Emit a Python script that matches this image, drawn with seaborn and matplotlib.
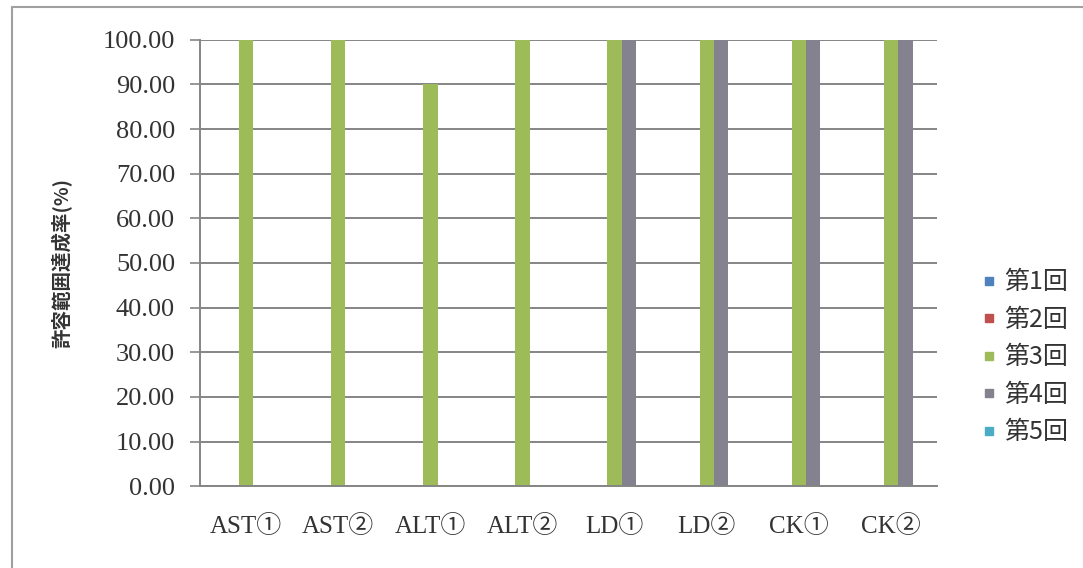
import matplotlib
matplotlib.use("Agg")
import matplotlib.pyplot as plt
import seaborn as sns
import pandas as pd
from matplotlib.lines import Line2D

# chart data
categories = ["AST①", "AST②", "ALT①", "ALT②", "LD①", "LD②", "CK①", "CK②"]
rounds = ["第1回", "第2回", "第3回", "第4回", "第5回"]
round1 = [0, 0, 0, 0, 0, 0, 0, 0]
round2 = [0, 0, 0, 0, 0, 0, 0, 0]
round3 = [100, 100, 90, 100, 100, 100, 100, 100]
round4 = [0, 0, 0, 0, 100, 100, 100, 100]
round5 = [0, 0, 0, 0, 0, 0, 0, 0]
yticks = [0, 10, 20, 30, 40, 50, 60, 70, 80, 90, 100]

colors = ["#4f81bd", "#c0504d", "#9dbb59", "#85828f", "#4bacc6"]

rows = []
for name, vals in zip(rounds, [round1, round2, round3, round4, round5]):
    for cat, v in zip(categories, vals):
        rows.append({"項目": cat, "回": name, "率": v})
df = pd.DataFrame(rows)

sns.set_theme(style="white")
cjk = ["Noto Sans CJK JP", "DejaVu Sans"]
serif = ["Liberation Serif", "Noto Sans CJK JP"]

fig = plt.figure(figsize=(10.83, 5.68), dpi=100)
ax = fig.add_axes([0.1847, 0.144, 0.6805, 0.786])

sns.barplot(data=df, x="項目", y="率", hue="回", hue_order=rounds,
            palette=colors, width=0.78, linewidth=0, saturation=1,
            legend=False, ax=ax)

ax.set_ylim(0, 100)
ax.set_yticks(yticks)
ax.set_yticklabels([f"{t:.2f}" for t in yticks], family=serif, fontsize=19, color="#333333")
ax.set_xticks(range(len(categories)))
ax.set_xticklabels(categories, family=serif, fontsize=18, color="#333333")
ax.set_xlim(-0.5, len(categories) - 0.5)
ax.set_xlabel("")
ax.set_ylabel("許容範囲達成率(%)", family=cjk, fontsize=14, fontweight="bold",
              color="#333333", labelpad=22)

ax.yaxis.grid(True, color="#858585", linewidth=1.4)
ax.set_axisbelow(True)
for side in ["top", "right"]:
    ax.spines[side].set_visible(False)
ax.spines["left"].set_color("#858585")
ax.spines["bottom"].set_color("#858585")
ax.spines["left"].set_linewidth(1.4)
ax.spines["bottom"].set_linewidth(1.4)
ax.tick_params(axis="y", left=True, length=7, width=1.2, color="#858585", pad=11)
ax.tick_params(axis="x", bottom=False, pad=15)

handles = [Line2D([0], [0], marker="s", linestyle="", markersize=6,
                  markerfacecolor=c, markeredgecolor=c) for c in colors]
fig.legend(handles, rounds, loc="center left", bbox_to_anchor=(0.903, 0.371),
           frameon=False, prop={"family": cjk, "size": 18}, labelspacing=0.46,
           borderpad=0, borderaxespad=0,
           handletextpad=0.15, handlelength=0.9, labelcolor="#333333")

# chart area border (partly cropped in the original)
fig.add_artist(Line2D([0.011, 1.0], [0.988, 0.988], transform=fig.transFigure,
                      color="#a0a0a0", linewidth=1.5))
fig.add_artist(Line2D([0.011, 0.011], [0.0, 0.988], transform=fig.transFigure,
                      color="#a0a0a0", linewidth=1.5))

fig.savefig("out.png", dpi=100)
